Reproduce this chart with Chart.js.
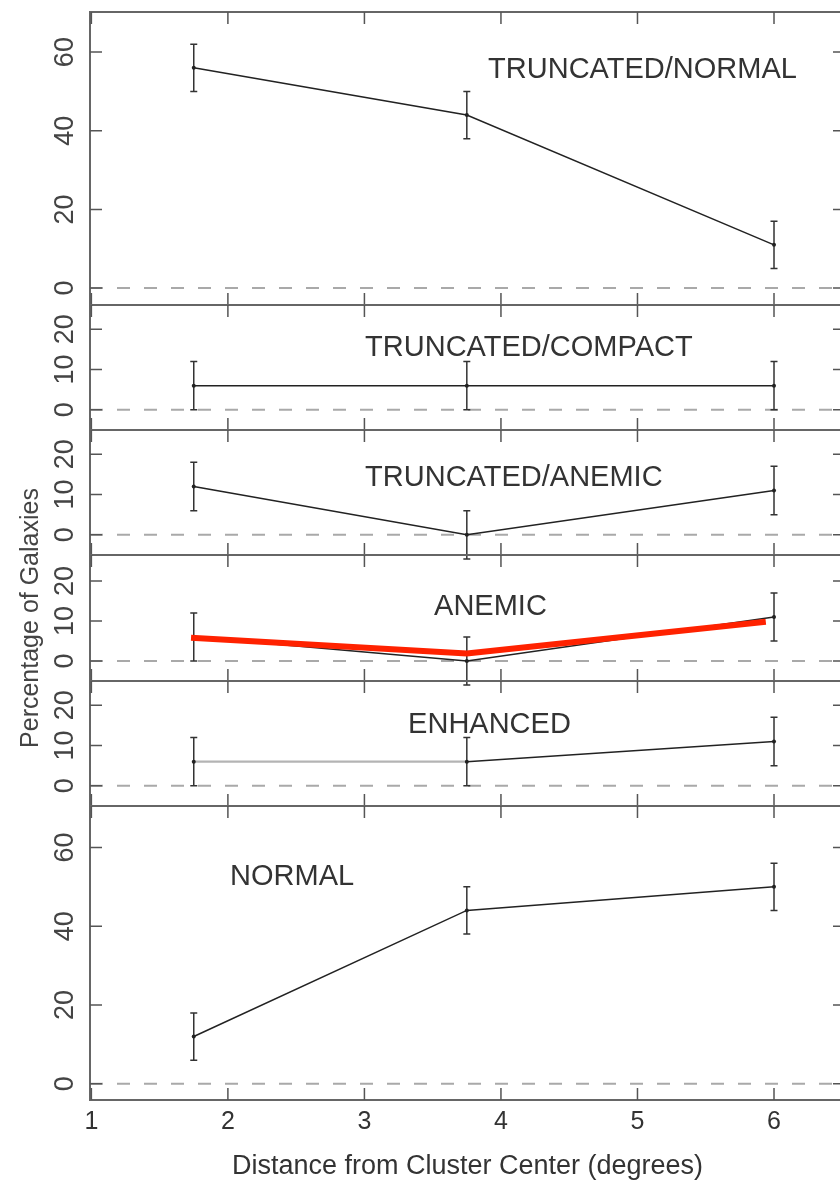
<!DOCTYPE html>
<html>
<head>
<meta charset="utf-8">
<title>Galaxy classes vs distance from cluster center</title>
<script src="https://cdn.jsdelivr.net/npm/chart.js@4.4.1/dist/chart.umd.min.js"></script>
<style>
  html, body { margin: 0; padding: 0; background: #fff; overflow: hidden; }
  #wrap { position: relative; width: 840px; height: 1183px; overflow: hidden; }
  #wrap canvas { position: absolute; left: 0; }
</style>
</head>
<body>
<div id="wrap"></div>
<script>
// values (percent of galaxies, +/- errors)
const distance = [1.75, 3.75, 6];
const truncNormal = [56, 44, 11];
const truncCompact = [6, 6, 6];
const truncAnemic = [12, 0, 11];
const anemic = [6, 0, 11];
const enhanced = [6, 6, 11];
const normal = [12, 44, 50];

const errTruncNormal = [6, 6, 6];
const errTruncCompact = [6, 6, 6];
const errTruncAnemic = [6, 6, 6];
const errAnemic = [6, 6, 6];
const errEnhanced = [6, 6, 6];
const errNormal = [6, 6, 6];

// red line drawn over the ANEMIC panel
const anemicFitX = [1.73, 3.75, 5.94];
const anemicFitY = [5.8, 1.9, 9.8];

const xTicks = [1, 2, 3, 4, 5, 6];
const bigTicks = [0, 20, 40, 60];
const smallTicks = [0, 10, 20];

const FONT = "'Liberation Sans', Arial, Helvetica, sans-serif";

// panel layout (pixel edges of each plot box) + where the label sits in data units
const panels = [
  { name: 'TRUNCATED/NORMAL', values: truncNormal, errors: errTruncNormal, ticks: bigTicks, min: -4.3, max: 70.2, top: 12, bottom: 305, label: [3.906, 55.5] },
  { name: 'TRUNCATED/COMPACT', values: truncCompact, errors: errTruncCompact, ticks: smallTicks, min: -5, max: 26, top: 305, bottom: 430, label: [3.005, 15.4] },
  { name: 'TRUNCATED/ANEMIC', values: truncAnemic, errors: errTruncAnemic, ticks: smallTicks, min: -5, max: 26, top: 430, bottom: 555, label: [3.005, 14.2] },
  { name: 'ANEMIC', values: anemic, errors: errAnemic, ticks: smallTicks, min: -5, max: 26.5, top: 555, bottom: 681, label: [3.51, 13.5], fit: true, yTitle: true, pad: 90 },
  { name: 'ENHANCED', values: enhanced, errors: errEnhanced, ticks: smallTicks, min: -5, max: 26, top: 681, bottom: 806, label: [3.32, 15], faded: [0] },
  { name: 'NORMAL', values: normal, errors: errNormal, ticks: bigTicks, min: -4.1, max: 70.5, top: 806, bottom: 1100, label: [2.016, 52.4], last: true }
];

// dashed zero line + error bars under the data, frame/ticks/label on top
const panelDecor = {
  id: 'panelDecor',
  beforeDatasetsDraw(chart) {
    const { ctx, chartArea: a, scales: { y } } = chart;
    ctx.save();
    const y0 = y.getPixelForValue(0);
    ctx.strokeStyle = '#a9a9a9';
    ctx.lineWidth = 2;
    ctx.setLineDash([13, 14]);
    ctx.beginPath();
    ctx.moveTo(a.left, y0);
    ctx.lineTo(a.right, y0);
    ctx.stroke();
    ctx.setLineDash([]);

    chart.data.datasets.forEach((ds, i) => {
      if (!ds.errors) return;
      const meta = chart.getDatasetMeta(i);
      ctx.strokeStyle = '#333';
      ctx.lineWidth = 1.5;
      meta.data.forEach((pt, j) => {
        const v = ds.data[j].y;
        const e = ds.errors[j];
        const yt = y.getPixelForValue(v + e);
        const yb = y.getPixelForValue(v - e);
        ctx.beginPath();
        ctx.moveTo(pt.x, yt); ctx.lineTo(pt.x, yb);
        ctx.moveTo(pt.x - 3.5, yt); ctx.lineTo(pt.x + 3.5, yt);
        ctx.moveTo(pt.x - 3.5, yb); ctx.lineTo(pt.x + 3.5, yb);
        ctx.stroke();
      });
    });
    ctx.restore();
  },
  afterDraw(chart, args, opts) {
    const { ctx, chartArea: a, scales: { x, y } } = chart;
    ctx.save();
    ctx.strokeStyle = '#666';
    ctx.lineWidth = 2;
    ctx.strokeRect(a.left, a.top, a.right - a.left, a.bottom - a.top);

    ctx.strokeStyle = '#555';
    ctx.lineWidth = 1.5;
    ctx.beginPath();
    x.ticks.forEach(t => {
      const px = x.getPixelForValue(t.value);
      ctx.moveTo(px, a.top); ctx.lineTo(px, a.top + 12);
      ctx.moveTo(px, a.bottom); ctx.lineTo(px, a.bottom - 12);
    });
    y.ticks.forEach(t => {
      const py = y.getPixelForValue(t.value);
      ctx.moveTo(a.left, py); ctx.lineTo(a.left + 12, py);
      ctx.moveTo(a.right, py); ctx.lineTo(a.right - 12, py);
    });
    ctx.stroke();

    ctx.fillStyle = '#333';
    ctx.font = '29px ' + FONT;
    ctx.textAlign = 'left';
    ctx.textBaseline = 'middle';
    ctx.fillText(opts.text, x.getPixelForValue(opts.at[0]), y.getPixelForValue(opts.at[1]));
    ctx.restore();
  }
};

const wrap = document.getElementById('wrap');

panels.forEach(p => {
  const pad = p.pad || 6;
  const top = p.top - pad;
  const height = p.last ? 1183 - top : p.bottom - p.top + 2 * pad;
  const canvas = document.createElement('canvas');
  canvas.width = 850;
  canvas.height = height;
  canvas.style.top = top + 'px';
  canvas.style.width = '850px';
  canvas.style.height = height + 'px';
  wrap.appendChild(canvas);

  const datasets = [];
  if (p.fit) {
    datasets.push({
      data: anemicFitX.map((v, i) => ({ x: v, y: anemicFitY[i] })),
      borderColor: '#ff2200',
      borderWidth: 6,
      pointRadius: 0,
      order: 0
    });
  }
  const faded = p.faded || [];
  datasets.push({
    data: distance.map((d, i) => ({ x: d, y: p.values[i] })),
    errors: p.errors,
    borderColor: '#222',
    borderWidth: 1.5,
    pointRadius: 2,
    pointBackgroundColor: '#222',
    pointBorderWidth: 0,
    order: 1,
    segment: {
      borderColor: c => faded.includes(c.p0DataIndex) ? '#b4b4b4' : '#222',
      borderWidth: c => faded.includes(c.p0DataIndex) ? 2.2 : 1.5
    }
  });

  new Chart(canvas, {
    type: 'line',
    data: { datasets },
    options: {
      responsive: false,
      animation: false,
      events: [],
      layout: { padding: { top: pad, bottom: p.last ? 0 : pad, left: 0, right: 5 } },
      elements: { line: { tension: 0 } },
      plugins: {
        legend: { display: false },
        tooltip: { enabled: false },
        panelDecor: { text: p.name, at: p.label }
      },
      scales: {
        x: {
          type: 'linear',
          min: 0.99,
          max: 6.52,
          display: !!p.last,
          afterBuildTicks: s => { s.ticks = xTicks.map(v => ({ value: v })); },
          afterFit: s => { s.height = p.last ? 83 : 0; s.paddingLeft = 0; s.paddingRight = 0; },
          grid: { display: false, drawTicks: false },
          border: { display: false },
          ticks: { padding: 7, color: '#333', autoSkip: false, maxRotation: 0, font: { family: FONT, size: 25 } },
          title: {
            display: !!p.last,
            text: 'Distance from Cluster Center (degrees)',
            color: '#333',
            font: { family: FONT, size: 27 },
            padding: { top: 0, bottom: 0 }
          }
        },
        y: {
          min: p.min,
          max: p.max,
          afterBuildTicks: s => { s.ticks = p.ticks.map(v => ({ value: v })); },
          afterFit: s => { s.width = 90; s.paddingTop = 0; s.paddingBottom = 0; },
          grid: { display: false, drawTicks: false },
          border: { display: false },
          ticks: {
            minRotation: 90,
            maxRotation: 90,
            crossAlign: 'center',
            padding: 9,
            autoSkip: false,
            color: '#444',
            font: { family: FONT, size: 27 }
          },
          title: {
            display: !!p.yTitle,
            text: 'Percentage of Galaxies',
            color: '#444',
            font: { family: FONT, size: 25 },
            padding: { top: 16, bottom: 0 }
          }
        }
      }
    },
    plugins: [panelDecor]
  });
});
</script>
</body>
</html>
